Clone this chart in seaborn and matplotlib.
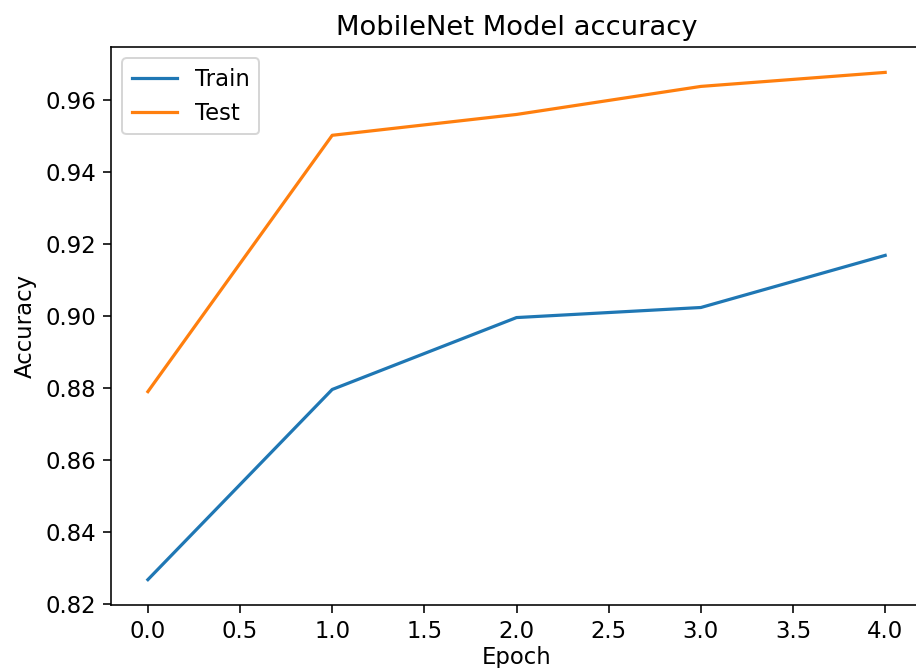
import pandas as pd
import matplotlib
matplotlib.use("Agg")
import matplotlib.pyplot as plt
import seaborn as sns

# accuracy per epoch
epochs = [0, 1, 2, 3, 4]
train_acc = [0.8267, 0.8796, 0.8996, 0.9024, 0.9169]
test_acc = [0.8790, 0.9503, 0.9561, 0.9639, 0.9678]

df = pd.DataFrame({
    "Epoch": epochs * 2,
    "Accuracy": train_acc + test_acc,
    "Set": ["Train"] * len(epochs) + ["Test"] * len(epochs),
})

# reference text is a bit larger than the matplotlib defaults
plt.rcParams["font.size"] = 11.4
plt.rcParams["axes.titlesize"] = 13.7
plt.rcParams["xtick.major.size"] = 4
plt.rcParams["ytick.major.size"] = 4

fig = plt.figure(figsize=(916 / 144, 668 / 144), dpi=144)
# the reference is cropped: right edge of the axes lies just past the image
ax = fig.add_axes([0.1212, 0.0943, 0.8854, 0.8353])
sns.lineplot(data=df, x="Epoch", y="Accuracy", hue="Set", ax=ax, linewidth=1.6)
ax.spines["right"].set_visible(False)

ax.set_title("MobileNet Model accuracy")
ax.set_xlabel("Epoch", labelpad=1.5)
ax.set_ylabel("Accuracy")
ax.legend(loc="upper left")

fig.savefig("out.png", dpi=144)
